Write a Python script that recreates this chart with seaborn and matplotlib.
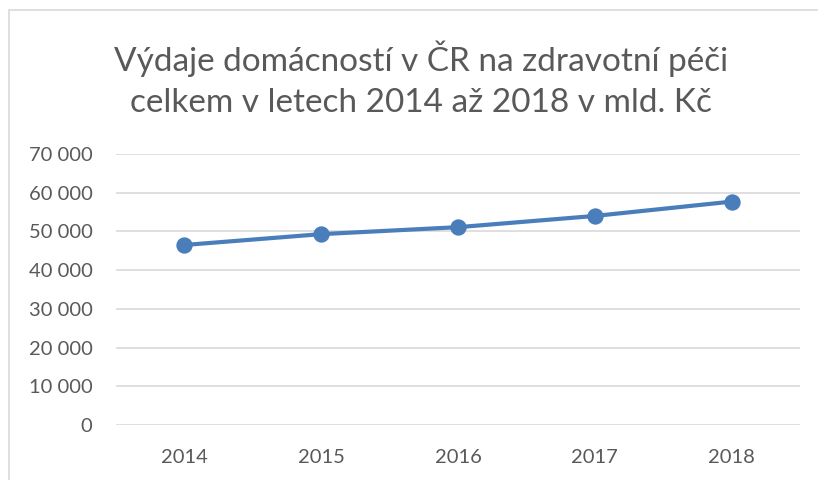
import matplotlib
matplotlib.use("Agg")
import matplotlib.pyplot as plt
from matplotlib.patches import Rectangle
from matplotlib.ticker import FuncFormatter
import seaborn as sns

# data (mld. Kč)
years = ["2014", "2015", "2016", "2017", "2018"]
spending = [46500, 49300, 51100, 54000, 57700]
title = "Výdaje domácností v ČR na zdravotní péči\ncelkem v letech 2014 až 2018 v mld. Kč"

sns.set_theme(style="white")
plt.rcParams["font.family"] = ["Lato", "DejaVu Sans"]

grey = "#595959"
blue = "#4a7ebb"

fig = plt.figure(figsize=(8.18, 4.8), dpi=100)
ax = fig.add_axes([116 / 818, 1 - 425 / 480, 684 / 818, 271 / 480])

# chart border like the Excel chart area (right and bottom edges off canvas)
fig.patches.append(Rectangle((9 / 818, -0.1), 1.2, 1 - 10 / 480 + 0.1,
                             transform=fig.transFigure, fill=False,
                             edgecolor="#d9d9d9", linewidth=1.2))

sns.pointplot(x=years, y=spending, color=blue, markers="o", ax=ax,
              linewidth=3, markersize=9.5)

ax.set_xlim(-0.5, 4.5)
ax.set_ylim(0, 70000)
ax.set_yticks(range(0, 70001, 10000))
ax.yaxis.set_major_formatter(FuncFormatter(lambda v, p: f"{v:,.0f}".replace(",", " ")))
ax.grid(axis="y", color="#d9d9d9", linewidth=1.2)
ax.set_axisbelow(True)
for s in ax.spines.values():
    s.set_visible(False)
ax.tick_params(axis="both", length=0, labelsize=14.5, colors=grey)
ax.tick_params(axis="y", pad=17)
ax.tick_params(axis="x", pad=17)
ax.set_xlabel("")
ax.set_ylabel("")

fig.text(0.515, 0.835, title, ha="center", va="center", fontsize=24,
         color=grey, linespacing=1.45)

fig.savefig("out.png", dpi=100)
